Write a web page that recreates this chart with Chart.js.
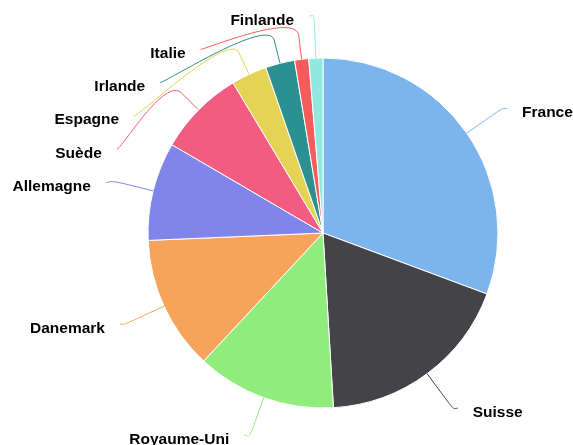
<!DOCTYPE html>
<html>
<head>
<meta charset="utf-8">
<script src="https://cdn.jsdelivr.net/npm/chart.js@4"></script>
<style>
  html, body { margin: 0; padding: 0; background: #fff; }
  #wrap { width: 573px; height: 445px; position: relative; }
</style>
</head>
<body>
<div id="wrap"><canvas id="pie-chart"></canvas></div>
<script>
// Chart data
var categories = ['France', 'Suisse', 'Royaume-Uni', 'Danemark', 'Allemagne', 'Suède', 'Espagne', 'Irlande', 'Italie', 'Finlande'];
var shares = [30.7, 18.4, 12.9, 12.4, 9.1, 8.0, 3.3, 2.7, 1.3, 1.3];
var sliceColors = ['#7cb5ec', '#434348', '#90ed7d', '#f7a35c', '#8085e9', '#f15c80', '#e4d354', '#2b908f', '#f45b5b', '#91e8e1'];

// Outside labels with bent connectors
var outsideLabels = {
  id: 'outsideLabels',
  afterDatasetsDraw: function (chart) {
    var ctx = chart.ctx;
    var arcs = chart.getDatasetMeta(0).data;
    var labelDist = 43, breakDist = 24, pad = 5, gap = 15, slot = 33.3;
    var minY = 16, maxY = 435;
    var items = [];

    arcs.forEach(function (arc, i) {
      var p = arc.getProps(['x', 'y', 'startAngle', 'endAngle', 'outerRadius'], true);
      var mid = (p.startAngle + p.endAngle) / 2;
      var cos = Math.cos(mid), sin = Math.sin(mid);
      var R = p.outerRadius + labelDist;
      items.push({
        i: i, cx: p.x, cy: p.y, R: R,
        left: cos < 0,
        natX: p.x + cos * R, natY: p.y + sin * R,
        touch: { x: p.x + cos * p.outerRadius, y: p.y + sin * p.outerRadius },
        brk: { x: p.x + cos * (p.outerRadius + breakDist), y: p.y + sin * (p.outerRadius + breakDist) }
      });
    });

    // spread labels on each side so they do not overlap
    [true, false].forEach(function (side) {
      var list = items.filter(function (it) { return it.left === side; });
      list.sort(function (a, b) { return a.natY - b.natY; });
      var groups = list.map(function (it) { return { items: [it] }; });
      var merged = true;
      while (merged) {
        merged = false;
        groups.forEach(function (g) {
          var n = g.items.length;
          var mean = g.items.reduce(function (s, it) { return s + it.natY; }, 0) / n;
          g.pos = Math.min(Math.max(mean - (n - 1) * slot / 2, minY), maxY - (n - 1) * slot);
        });
        for (var k = 0; k < groups.length - 1; k++) {
          if (groups[k].pos + groups[k].items.length * slot > groups[k + 1].pos) {
            groups[k].items = groups[k].items.concat(groups[k + 1].items);
            groups.splice(k + 1, 1);
            merged = true;
            break;
          }
        }
      }
      groups.forEach(function (g) {
        g.items.forEach(function (it, j) { it.y = g.pos + j * slot; });
      });
    });

    ctx.save();
    ctx.font = 'bold 15.5px "Liberation Sans", Arial, sans-serif';
    ctx.textBaseline = 'alphabetic';
    items.forEach(function (it) {
      var dir = it.left ? -1 : 1;
      var x;
      // labels pinned at the top/bottom edge keep their natural x
      if (Math.abs(it.y - it.natY) < 2 || it.y <= minY || it.y >= maxY) {
        x = it.natX + dir * pad;
      } else {
        var dy = Math.max(-it.R, Math.min(it.R, it.y - it.cy));
        x = it.cx + dir * Math.sqrt(it.R * it.R - dy * dy) + dir * pad;
      }
      var y = it.y;
      // connector
      ctx.beginPath();
      ctx.strokeStyle = sliceColors[it.i];
      ctx.lineWidth = 1;
      ctx.moveTo(x, y);
      ctx.bezierCurveTo(x - dir * 5, y,
        2 * it.brk.x - it.touch.x, 2 * it.brk.y - it.touch.y,
        it.brk.x, it.brk.y);
      ctx.lineTo(it.touch.x, it.touch.y);
      ctx.stroke();
      // text
      ctx.fillStyle = '#000';
      ctx.textAlign = it.left ? 'right' : 'left';
      ctx.fillText(categories[it.i], x + dir * gap, y + 8.5);
    });
    ctx.restore();
  }
};

var chartContainer = document.getElementById('pie-chart');
var myPieChart = new Chart(chartContainer, {
  type: 'pie',
  data: {
    labels: categories,
    datasets: [{
      data: shares,
      backgroundColor: sliceColors,
      borderColor: '#ffffff',
      borderWidth: 1,
      radius: 175
    }]
  },
  options: {
    responsive: true,
    maintainAspectRatio: false,
    animation: false,
    layout: { padding: { left: 80, right: 7, top: 30, bottom: 9 } },
    plugins: {
      legend: { display: false },
      tooltip: { enabled: false }
    }
  },
  plugins: [outsideLabels]
});
</script>
</body>
</html>
